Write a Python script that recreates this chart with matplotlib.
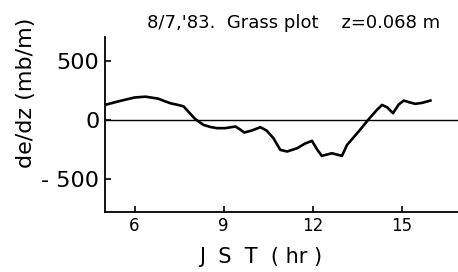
import matplotlib
matplotlib.use('Agg')
import matplotlib.pyplot as plt

# hour (JST) and de/dz (mb/m)
hours = [5.0, 5.5, 6.0, 6.37, 6.8, 7.0, 7.21, 7.45, 7.65, 7.85, 8.05, 8.32, 8.55,
         8.78, 9.06, 9.25, 9.40, 9.55, 9.70, 9.95, 10.24, 10.45, 10.68, 10.91,
         11.14, 11.48, 11.75, 11.98, 12.15, 12.31, 12.65, 12.99, 13.16, 13.55,
         13.89, 14.15, 14.34, 14.51, 14.71, 14.9, 15.07, 15.25, 15.46, 15.7, 15.97]
dedz = [127, 160, 190, 197, 180, 160, 141, 128, 115, 60, 6, -42, -60,
        -70, -70, -62, -56, -80, -107, -90, -62, -90, -155, -254,
        -268, -240, -200, -178, -250, -305, -283, -305, -212, -99,
        6, 80, 127, 107, 57, 130, 164, 150, 136, 145, 164]

xticks = [6, 9, 12, 15]
yticks = [-500, 0, 500]


def make_graph():
    fig = plt.figure(figsize=(4.58, 2.72), dpi=100)
    ax = fig.add_axes([0.229, 0.221, 0.771, 0.643])

    ax.plot(hours, dedz, color='black', linewidth=1.9, solid_joinstyle='round')
    ax.axhline(0, color='black', linewidth=1.0)

    ax.set_xlim(5.0, 16.9)
    ax.set_ylim(-780, 703)
    ax.set_xticks(xticks)
    ax.set_yticks(yticks)
    ax.set_xticklabels([str(t) for t in xticks], fontsize=12)
    ax.set_yticklabels(['- 500', '0', '500'], fontsize=16)
    ax.tick_params(direction='in', length=4, width=1.2, pad=4)

    for side in ['top', 'right']:
        ax.spines[side].set_visible(False)
    for side in ['left', 'bottom']:
        ax.spines[side].set_linewidth(1.3)

    ax.set_ylabel('de/dz (mb/m)', fontsize=16, labelpad=4, y=0.68)
    ax.set_xlabel('J  S  T  ( hr )', fontsize=15, labelpad=8, x=0.44)
    fig.text(0.32, 0.915, "8/7,'83.  Grass plot    z=0.068 m", fontsize=13,
             ha='left', va='center')

    plt.savefig('out.png', dpi=100)


if __name__ == '__main__':
    make_graph()
